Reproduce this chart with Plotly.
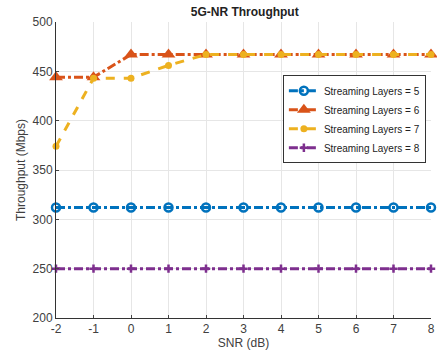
import plotly.graph_objects as go

snr = [-2, -1, 0, 1, 2, 3, 4, 5, 6, 7, 8]
snr_labels = ["-2", "-1", "0", "1", "2", "3", "4", "5", "6", "7", "8"]
layers5 = [312, 312, 312, 312, 312, 312, 312, 312, 312, 312, 312]
layers6 = [444, 444, 467, 467, 467, 467, 467, 467, 467, 467, 467]
layers7 = [374, 443, 443, 456, 467, 467, 467, 467, 467, 467, 467]
layers8 = [250, 250, 250, 250, 250, 250, 250, 250, 250, 250, 250]
y_ticks = [200, 250, 300, 350, 400, 450, 500]
names = ["Streaming Layers = 5", "Streaming Layers = 6", "Streaming Layers = 7", "Streaming Layers = 8"]

colors = ["#0072BD", "#D95319", "#EDB120", "#7E2F8E"]
fig = go.Figure()
fig.add_trace(go.Scatter(x=snr, y=layers5, name=names[0], mode="lines+markers", cliponaxis=False,
                         line=dict(color=colors[0], width=3, dash="dashdot"),
                         marker=dict(symbol="circle-open", size=8, color=colors[0], line=dict(width=2.5))))
fig.add_trace(go.Scatter(x=snr, y=layers6, name=names[1], mode="lines+markers", cliponaxis=False,
                         line=dict(color=colors[1], width=3, dash="dashdot"),
                         marker=dict(symbol="triangle-up", size=12, color=colors[1])))
fig.add_trace(go.Scatter(x=snr, y=layers7, name=names[2], mode="lines+markers", cliponaxis=False,
                         line=dict(color=colors[2], width=3, dash="dash"),
                         marker=dict(symbol="circle", size=7, color=colors[2])))
fig.add_trace(go.Scatter(x=snr, y=layers8, name=names[3], mode="lines+markers", cliponaxis=False,
                         line=dict(color=colors[3], width=3, dash="dashdot"),
                         marker=dict(symbol="cross-thin", size=6, color=colors[3], line=dict(width=2.5, color=colors[3]))))

fig.update_layout(
    width=437, height=357,
    margin=dict(l=56, r=6, t=22, b=39),
    paper_bgcolor="white", plot_bgcolor="white",
    font=dict(family="Liberation Sans, Arial", size=12, color="#404040"),
    title=dict(text="<b>5G-NR Throughput</b>", x=0.56, xanchor="center", y=0.98, yanchor="top",
               font=dict(size=12, color="#222222")),
    xaxis=dict(range=[-2, 8], tickmode="array", tickvals=snr, ticktext=snr_labels, ticks="inside", ticklen=3,
               showgrid=True, gridcolor="#E6E6E6", zeroline=False, automargin=False,
               showline=True, linecolor="#333333", linewidth=1,
               title=dict(text="SNR (dB)", standoff=2, font=dict(size=12))),
    yaxis=dict(range=[200, 500], tickvals=y_ticks, ticks="inside", ticklen=3,
               showgrid=True, gridcolor="#E6E6E6", zeroline=False, automargin=False,
               showline=True, linecolor="#333333", linewidth=1,
               title=dict(text="Throughput (Mbps)", standoff=4, font=dict(size=12))),
    legend=dict(x=0.605, y=0.82, xanchor="left", yanchor="top", bgcolor="white",
                bordercolor="#333333", borderwidth=1, font=dict(size=10, color="#222222"),
                tracegroupgap=0, itemwidth=30),
    showlegend=True,
)
fig.write_html("out.html", config={"displayModeBar": False},
               post_script="document.body.style.margin='0';document.body.style.overflow='hidden';")
